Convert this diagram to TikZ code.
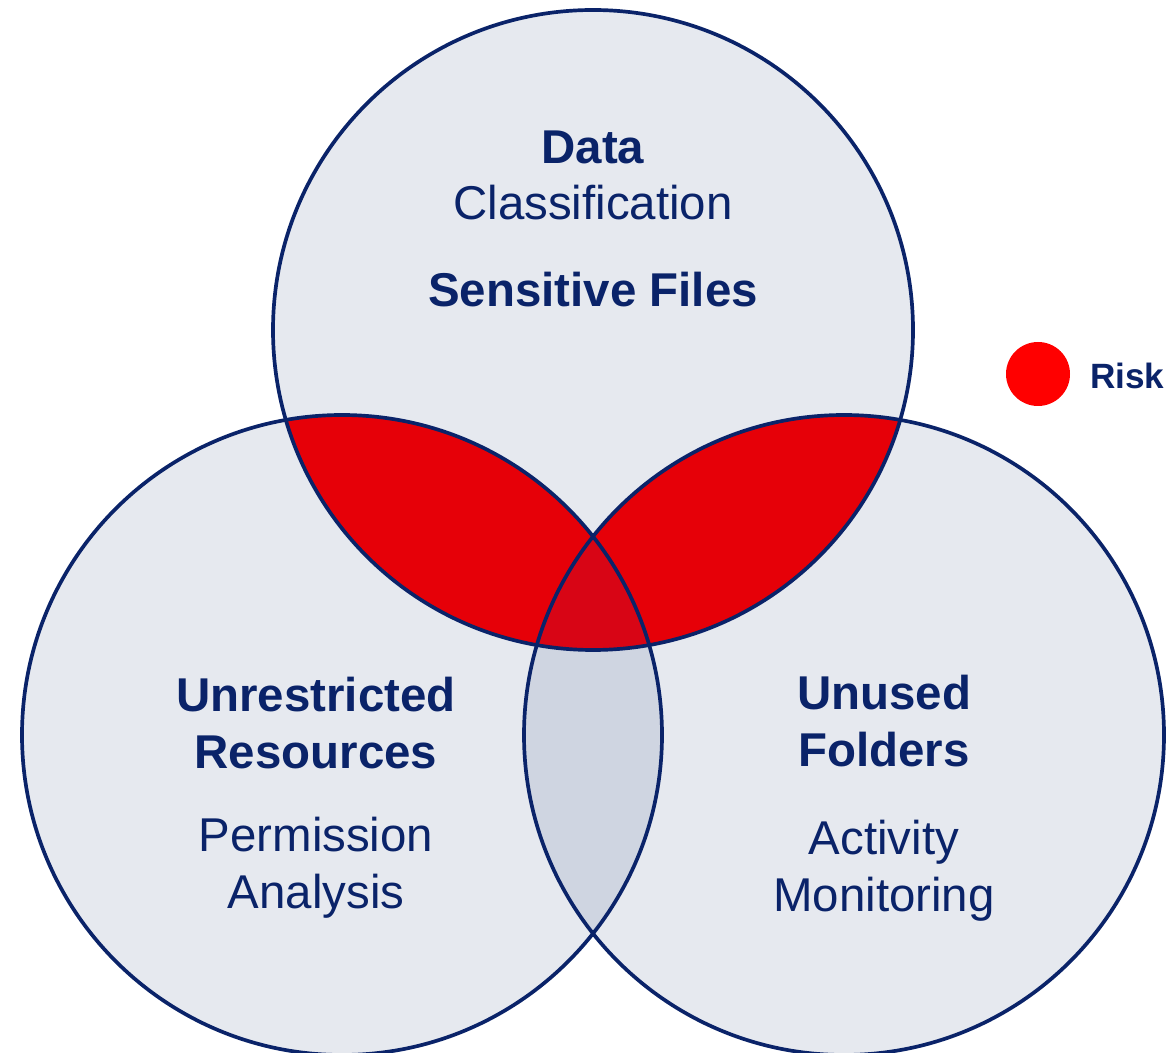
\documentclass[tikz,border=0pt]{standalone}
\usepackage{fontspec}
\setmainfont{Liberation Sans}
\definecolor{vennblue}{HTML}{0A2369}
\definecolor{vennfill}{HTML}{E6E9EF}
\definecolor{overlap}{HTML}{CFD5E1}
\definecolor{riskred}{HTML}{E60008}
\definecolor{corered}{HTML}{D80515}

\tikzset{
  ring/.style={draw=vennblue, line width=2.1pt},
  head/.style={text=vennblue, align=center, anchor=base, font=\fontsize{27}{32.3}\selectfont\bfseries},
  sub/.style={text=vennblue, align=center, anchor=base, font=\fontsize{27}{32.3}\selectfont},
}

\begin{document}
\begin{tikzpicture}[x=0.02cm,y=-0.02cm]
    \useasboundingbox (0,0) rectangle (1170,1053);
    \def\r{320}
    \coordinate (classify) at (593,330);
    \coordinate (perm) at (342,735);
    \coordinate (activity) at (844,735);

    % plain discs
    \fill[vennfill] (classify) circle[radius=\r];
    \fill[vennfill] (perm) circle[radius=\r];
    \fill[vennfill] (activity) circle[radius=\r];

    % lower overlap
    \begin{scope}
        \clip (perm) circle[radius=\r];
        \fill[overlap] (activity) circle[radius=\r];
    \end{scope}
    % risk lenses
    \begin{scope}
        \clip (classify) circle[radius=\r];
        \fill[riskred] (perm) circle[radius=\r];
        \fill[riskred] (activity) circle[radius=\r];
    \end{scope}
    \begin{scope}
        \clip (classify) circle[radius=\r];
        \clip (perm) circle[radius=\r];
        \fill[corered] (activity) circle[radius=\r];
    \end{scope}

    % outlines
    \draw[ring] (classify) circle[radius=\r];
    \draw[ring] (perm) circle[radius=\r];
    \draw[ring] (activity) circle[radius=\r];

    % labels (base = last line)
    \node[sub] (dc) at (593,220) {\textbf{Data}\\Classification};
    \node[head] (sf) at (593,307) {Sensitive Files};
    \node[head] (ur) at (316,768) {Unrestricted\\Resources};
    \node[sub] (pa) at (316,908) {Permission\\Analysis};
    \node[head] (uf) at (884,766) {Unused\\Folders};
    \node[sub] (am) at (884,911) {Activity\\Monitoring};

    % legend
    \fill[red] (1038,374) circle[radius=32];
    \node[text=vennblue, anchor=base west, font=\fontsize{20}{24}\selectfont\bfseries] (risk) at (1084,389) {Risk};
\end{tikzpicture}
\end{document}
